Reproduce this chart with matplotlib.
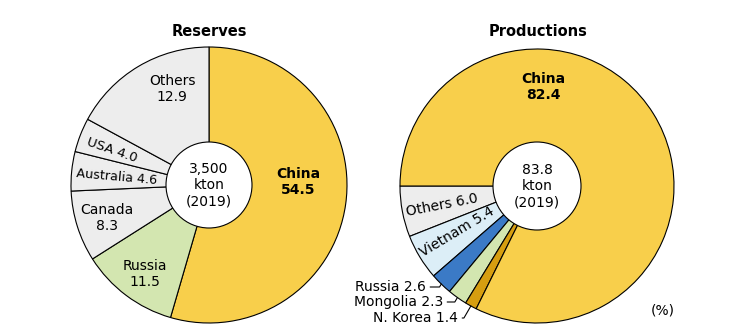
import matplotlib
matplotlib.use("Agg")
import matplotlib.pyplot as plt
import numpy as np

plt.rcParams['font.family'] = ['DejaVu Sans']
plt.rcParams['font.size'] = 10

# data (%)
res_names = ['China', 'Russia', 'Canada', 'Australia', 'USA', 'Others']
res_values = [54.5, 11.5, 8.3, 4.6, 4.0, 12.9]
res_total = '3,500\nkton\n(2019)'

prod_names = ['Others', 'Vietnam', 'Russia', 'Mongolia', 'N. Korea', 'China']
prod_values = [6.0, 5.4, 2.6, 2.3, 1.4, 82.4]
prod_total = '83.8\nkton\n(2019)'

YELLOW = '#F8CF4B'
LGREEN = '#D3E6B0'
GRAY = '#EDEDED'
LBLUE = '#DCEEF7'
BLUE = '#3B7AC6'
GOLD = '#D69E10'

H = 334
def Y(y):
    return H - y

LS = 1.2

fig = plt.figure(figsize=(7.47, 3.34), dpi=100)
ax = fig.add_axes([0, 0, 1, 1])

# drawn wedges: the printed shares of reserves add to 95.8, the "Others" wedge fills the rest
res_draw = res_values[:-1] + [100 - sum(res_values[:-1])]
res_colors = [YELLOW, LGREEN, GRAY, GRAY, GRAY, GRAY]
c1 = (209, Y(185))
w1, _ = ax.pie(res_draw, colors=res_colors, startangle=90, counterclock=False,
               center=c1, radius=138,
               wedgeprops=dict(edgecolor='black', linewidth=0.8))
ax.add_patch(plt.Circle(c1, 43, facecolor='white', edgecolor='black', lw=0.8, zorder=3))
ax.text(c1[0], c1[1], res_total, ha='center', va='center', fontsize=10, zorder=4, linespacing=LS)

prod_colors = [GRAY, LBLUE, BLUE, LGREEN, GOLD, YELLOW]
c2 = (537, Y(186))
w2, _ = ax.pie(prod_values, colors=prod_colors, startangle=180, counterclock=True,
               center=c2, radius=137,
               wedgeprops=dict(edgecolor='black', linewidth=0.8))
ax.add_patch(plt.Circle(c2, 44, facecolor='white', edgecolor='black', lw=0.8, zorder=3))
ax.text(c2[0], c2[1], prod_total, ha='center', va='center', fontsize=10, zorder=4, linespacing=LS)

# titles
ax.text(209, Y(31), 'Reserves', ha='center', va='center', fontweight='bold', fontsize=10.5)
ax.text(538, Y(31), 'Productions', ha='center', va='center', fontweight='bold', fontsize=10.5)

# reserves labels
ax.text(298, Y(182), f'China\n{res_values[0]}', ha='center', va='center', fontweight='bold',
        fontsize=10, linespacing=LS)
ax.text(145, Y(274), f'Russia\n{res_values[1]}', ha='center', va='center', fontsize=10, linespacing=LS)
ax.text(107, Y(218), f'Canada\n{res_values[2]}', ha='center', va='center', fontsize=10, linespacing=LS)
ax.text(117, Y(177), f'Australia {res_values[3]}', ha='center', va='center', rotation=-5,
        fontsize=9.2, rotation_mode='anchor')
ax.text(112, Y(150), f'USA {res_values[4]}', ha='center', va='center', rotation=-19,
        fontsize=9.5, rotation_mode='anchor')
ax.text(172, Y(89), f'Others\n{res_values[5]}', ha='center', va='center', fontsize=10, linespacing=LS)

# production labels
ax.text(543, Y(87), f'China\n{prod_values[5]}', ha='center', va='center', fontweight='bold',
        fontsize=10, linespacing=LS)
ax.text(442, Y(205), f'Others {prod_values[0]}', ha='center', va='center', rotation=11,
        fontsize=10, rotation_mode='anchor')
ax.text(457, Y(232), f'Vietnam {prod_values[1]}', ha='center', va='center', rotation=31,
        fontsize=10, rotation_mode='anchor')

# small slices with leader lines
text_pos = [(426, Y(287)), (443, Y(302)), (458, Y(318))]
for i, tp in zip([2, 3, 4], text_pos):
    w = w2[i]
    mid = np.deg2rad((w.theta1 + w.theta2) / 2)
    xy = (c2[0] + 137 * np.cos(mid), c2[1] + 137 * np.sin(mid))
    ax.annotate(f'{prod_names[i]} {prod_values[i]}', xy=xy, xytext=tp,
                ha='right', va='center', fontsize=10,
                arrowprops=dict(arrowstyle='-', lw=0.8, color='black',
                                shrinkA=1, shrinkB=0,
                                connectionstyle='angle,angleA=0,angleB=60,rad=0'))

ax.text(663, Y(311), '(%)', ha='center', va='center', fontsize=10)

ax.set_xlim(0, 747)
ax.set_ylim(0, H)
ax.set_aspect('equal')
ax.axis('off')

fig.savefig('out.png', dpi=100, facecolor='white')
